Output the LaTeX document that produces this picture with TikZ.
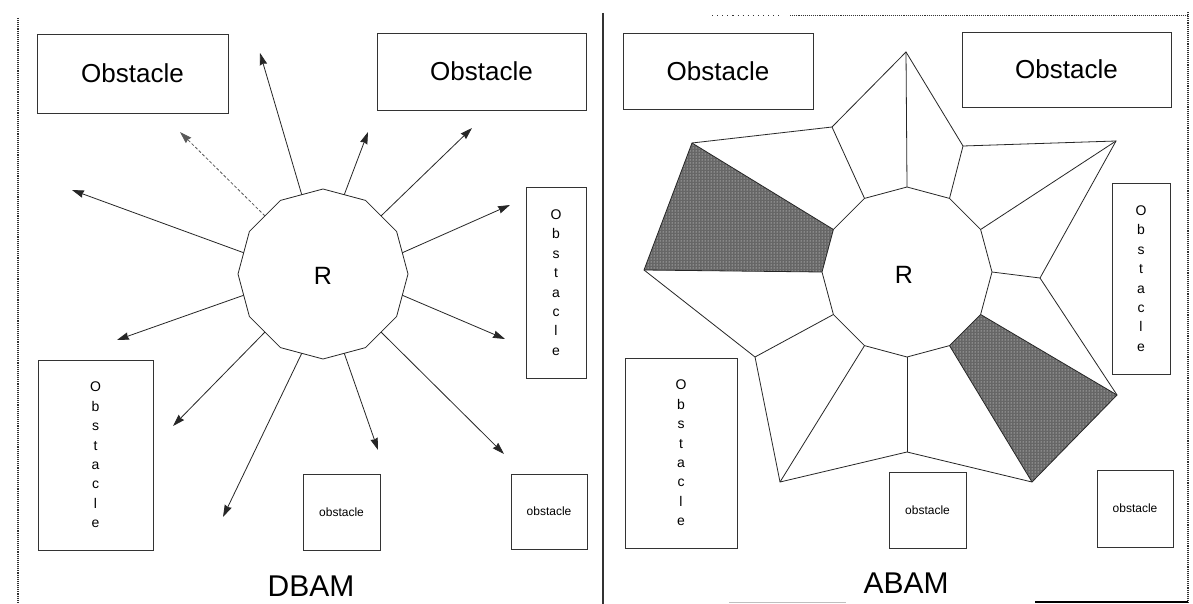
\documentclass[tikz,border=0pt]{standalone}
\usepackage{fontspec}
\setmainfont{Liberation Sans}
\usetikzlibrary{arrows.meta,patterns,calc}

\begin{document}
\begin{tikzpicture}[x=1pt,y=-1pt,
  edge/.style={line width=0.8pt, draw=black!85},
  ray/.style={edge, -{Stealth[length=12pt,width=7.5pt,inset=1pt]}},
  obox/.style={draw=black!80, line width=0.9pt, inner sep=0pt},
  bigtext/.style={font=\fontsize{26}{30}\selectfont},
  smalltext/.style={font=\fontsize{12}{14}\selectfont},
  vtext/.style={font=\fontsize{14}{19.4}\selectfont, align=center},
  titletext/.style={font=\fontsize{30}{34}\selectfont},
  rtext/.style={font=\fontsize{25}{28}\selectfont},
  frame/.style={line width=1.1pt, draw=black!80},
  shaded/.style={fill=black!60, postaction={pattern=dots, pattern color=white}},
]
\useasboundingbox (0,0) rectangle (1193,604);
\fill[white] (0,0) rectangle (1193,604);

% ---------- panel frames ----------
\draw[frame, densely dotted] (18,18) -- (18,604);
\draw[frame] (603,13) -- (603,604);
\draw[frame, densely dotted] (1188,12) -- (1188,604);
\draw[frame, loosely dotted, line width=0.9pt] (712,15) -- (780,15);
\draw[frame, densely dotted, line width=0.9pt] (790,15) -- (1188,15);
\draw[line width=1.2pt] (1035,602) -- (1188,602);
\draw[line width=1pt, black!25] (729,602) -- (846,602);

% ---------- left panel: DBAM ----------
\foreach \i in {0,...,11}
  \coordinate (L\i) at ($(323,274)+({85*cos(30*\i)},{-85*sin(30*\i)})$);
\foreach \i [evaluate=\i as \j using {int(mod(\i+1,12))}] in {0,...,11}
  \coordinate (Lm\i) at ($(L\i)!0.5!(L\j)$);
\draw[edge] (L0) \foreach \i in {1,...,11}{ -- (L\i)} -- cycle;
\node[rtext] (robotL) at (323,276) {R};

\coordinate (T0) at (510,205);
\coordinate (T1) at (472,128);
\coordinate (T2) at (368,132);
\coordinate (T3) at (260,53);
\coordinate (T4) at (180,132);
\coordinate (T5) at (72,190);
\coordinate (T6) at (117,340);
\coordinate (T7) at (173,426);
\coordinate (T8) at (223,517);
\coordinate (T9) at (378,450);
\coordinate (T10) at (504,454);
\coordinate (T11) at (505,339);
\foreach \i in {0,1,2,3,5,6,7,8,9,10,11}
  \draw[ray] (Lm\i) -- (T\i);
\draw[ray, densely dashed, draw=black!65] (Lm4) -- (T4);

\node[obox, bigtext, minimum width=191, minimum height=79] (oL1) at (132.5,73.5) {Obstacle};
\node[obox, bigtext, minimum width=209, minimum height=77] (oL2) at (481.5,71.5) {Obstacle};
\node[obox, vtext, minimum width=60, minimum height=191] (oL3) at (556,282.5) {O\\b\\s\\t\\a\\c\\l\\e};
\node[obox, vtext, minimum width=115, minimum height=190] (oL4) at (95.5,455) {O\\b\\s\\t\\a\\c\\l\\e};
\node[obox, smalltext, minimum width=77, minimum height=76] (oL5) at (341.5,512) {obstacle};
\node[obox, smalltext, minimum width=76, minimum height=75] (oL6) at (549,511.5) {obstacle};
\node[titletext] (dbam) at (311,586) {DBAM};

% ---------- right panel: ABAM ----------
\foreach \i in {0,...,11}
  \coordinate (R\i) at ($(907,272)+({85*cos(30*\i)},{-85*sin(30*\i)})$);
\coordinate (S0) at (1040,278);
\coordinate (S1) at (1116,141);
\coordinate (S2) at (963,146);
\coordinate (S3) at (906,52);
\coordinate (S4) at (832,127);
\coordinate (S5) at (692,143);
\coordinate (S6) at (644,270);
\coordinate (S7) at (755,357);
\coordinate (S8) at (780,482);
\coordinate (S9) at (907,452);
\coordinate (S10) at (1032,482);
\coordinate (S11) at (1117,395);

% shaded free-space cells
\fill[shaded] (R5) -- (S5) -- (S6) -- (R6) -- cycle;
\fill[shaded] (R10) -- (S10) -- (S11) -- (R11) -- cycle;

\draw[edge] (R0) \foreach \i in {1,...,11}{ -- (R\i)} -- cycle;
\draw[edge] (S0) \foreach \i in {1,...,11}{ -- (S\i)} -- cycle;
\foreach \i in {0,...,11}
  \draw[edge] (R\i) -- (S\i);
\node[rtext] (robotR) at (904,275) {R};

\node[obox, bigtext, minimum width=190, minimum height=76] (oR1) at (718,71) {Obstacle};
\node[obox, bigtext, minimum width=209, minimum height=75] (oR2) at (1066.5,69.5) {Obstacle};
\node[obox, vtext, minimum width=58, minimum height=191] (oR3) at (1141,278.5) {O\\b\\s\\t\\a\\c\\l\\e};
\node[obox, vtext, minimum width=112, minimum height=190] (oR4) at (681,453) {O\\b\\s\\t\\a\\c\\l\\e};
\node[obox, smalltext, minimum width=77, minimum height=76] (oR5) at (927.5,510) {obstacle};
\node[obox, smalltext, minimum width=76, minimum height=77] (oR6) at (1135,508.5) {obstacle};
\node[titletext] (abam) at (906,583) {ABAM};
\end{tikzpicture}
\end{document}
